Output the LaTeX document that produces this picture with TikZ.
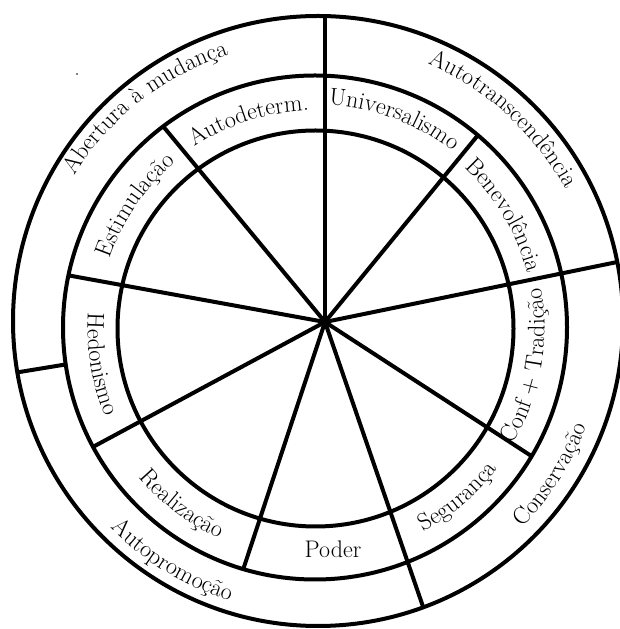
\documentclass[tikz,border=0pt]{standalone}
\usetikzlibrary{calc,decorations.text}
\newcommand\labfont{\fontsize{24}{28}\selectfont}
\newcommand\arclabelcw[4]{%
  \path[decorate,decoration={text along path,text={|\labfont|#4},text align=center}]
    ($(#1)+({#2+40}:#3pt)$) arc[start angle={#2+40}, end angle={#2-40}, radius=#3pt];}
\newcommand\arclabelccw[4]{%
  \path[decorate,decoration={text along path,text={|\labfont|#4},text align=center}]
    ($(#1)+({#2-40}:#3pt)$) arc[start angle={#2-40}, end angle={#2+40}, radius=#3pt];}
\begin{document}
\begin{tikzpicture}[x=1pt,y=1pt,
  ring/.style={line width=4pt},
  spoke/.style={line width=4pt}]
\useasboundingbox (0,0) rectangle (619,629);
\fill[white] (0,0) rectangle (619,629);
\coordinate (S) at (325,307);
\coordinate (C1) at (315.5,300.5);
\coordinate (C2) at (315,301.5);
\coordinate (C3) at (318,308);
\coordinate (CT) at (316,304);
% spokes ending at the middle ring
\begin{scope}
  \clip (C2) circle[radius=252pt];
  \foreach \a/\n in {129.6/2,169.7/3,208.3/4,251.7/5,327/7,50.7/9}{
    \path (S) ++(\a:300pt) coordinate (e\n);
    \draw[spoke] (S) -- (e\n);
  }
\end{scope}
% spokes ending at the outer ring
\begin{scope}
  \clip (C3) circle[radius=305pt];
  \foreach \a/\n in {90/1,289/6,11.6/8}{
    \path (S) ++(\a:360pt) coordinate (e\n);
    \draw[spoke] (S) -- (e\n);
  }
  \path (S) ++(189.3:262.7pt) coordinate (m10);
  \path (S) ++(189.3:360pt) coordinate (o10);
  \draw[spoke] (m10) -- (o10);
\end{scope}
% rings
\draw[ring] (C1) circle[radius=198pt];
\draw[ring] (C2) circle[radius=252pt];
\draw[ring] (C3) circle[radius=305pt];
% inner ring labels
\arclabelcw{C1}{107.7}{218}{Autodeterm.}
\arclabelcw{C1}{145.7}{217}{Estimulação}
\arclabelcw{C1}{69.4}{224}{Universalismo}
\arclabelcw{C1}{30.9}{219}{Benevolência}
\arclabelccw{C1}{189.4}{228}{Hedonismo}
\arclabelccw{C1}{232.8}{231}{Realização}
\arclabelccw{C1}{310.2}{230}{Segurança}
\arclabelccw{C1}{349.9}{229}{Conf + Tradição}
\node[anchor=base,font=\labfont,inner sep=0pt] (poder) at (333,71.7) {Poder};
% outer ring labels
\arclabelcw{CT}{128.1}{284}{Abertura à mudança}
\arclabelcw{CT}{47.7}{284}{Autotranscendência}
\arclabelccw{CT}{238.6}{289}{Autopromoção}
\arclabelccw{CT}{327.5}{289}{Conservação}
\fill (77,555) circle[radius=0.8pt];
\end{tikzpicture}
\end{document}
